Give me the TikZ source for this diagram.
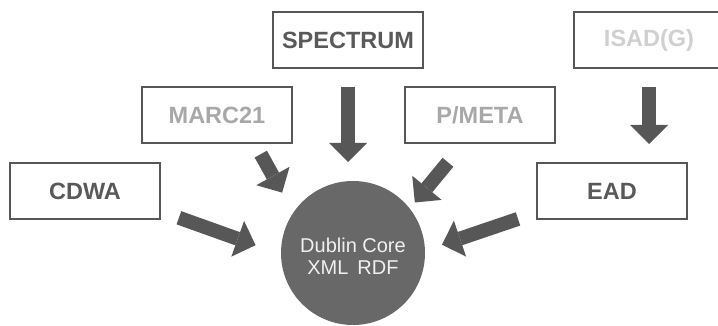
\documentclass[tikz,border=0pt]{standalone}
\usepackage{fontspec}
\setmainfont{Liberation Sans}
\definecolor{framegray}{HTML}{575757}
\definecolor{coregray}{HTML}{686868}
\definecolor{textdark}{HTML}{595959}
\definecolor{textlight}{HTML}{A8A8A8}
\definecolor{textpale}{HTML}{D0D0D0}
\definecolor{coretext}{HTML}{F0F0F0}
\usetikzlibrary{positioning, arrows.meta}

\begin{document}
\begin{tikzpicture}[
    x=1pt, y=1pt,
    srcbox/.style={
      rectangle, draw=framegray, line width=2pt,
      minimum width=150pt, minimum height=56pt,
      font=\fontsize{23.5}{26}\selectfont\bfseries,
      text=#1,
    },
    core/.style={
      circle, fill=coregray, minimum size=144pt,
      inner sep=0pt, outer sep=0pt, align=center,
      font=\fontsize{20}{22}\selectfont, text=coretext,
    },
    bigarrow/.style={
      -{Triangle[length=19pt, width=38pt, line width=0pt]},
      draw=framegray, line width=14pt,
    },
  ]

  \useasboundingbox (0,0) rectangle (718,-326);
  \clip (0,0) rectangle (718,-326);

  \node[srcbox=textdark] (spectrum) at (348,-40) {SPECTRUM};
  \node[srcbox=textpale, right=149pt of spectrum] (isad) {ISAD(G)};

  \node[srcbox=textlight] (marc) at (217,-115.5) {MARC21};
  \node[srcbox=textlight, right=111pt of marc] (pmeta) {P/META};

  \node[srcbox=textdark] (cdwa) at (85,-191) {CDWA};
  \node[srcbox=textdark, right=375pt of cdwa] (ead) {EAD};

  \node[core] (dc) at (353,-253) {};
  \node[font=\fontsize{20}{22}\selectfont, text=coretext, align=center]
    (dc-label) at ([yshift=-3pt]dc.center) {Dublin Core\\XML\hspace{0.45em}RDF};

  \draw[bigarrow, shorten <=18pt, shorten >=19pt]
    (spectrum.south) -- (spectrum.south |- dc.north);
  \draw[bigarrow, shorten <=18pt, shorten >=18pt]
    (isad.south) -- (isad.south |- ead.north);
  \draw[bigarrow, shorten <=11pt, shorten >=23pt] (marc.-37) -- (dc.146);
  \draw[bigarrow, shorten <=23pt, shorten >=8pt] (pmeta.-121) -- (dc.38);
  \draw[bigarrow, shorten <=19pt, shorten >=27pt] (cdwa.-15) -- (dc.181);
  \draw[bigarrow, shorten <=19pt, shorten >=18pt] (ead.196) -- (dc.2);
\end{tikzpicture}
\end{document}
